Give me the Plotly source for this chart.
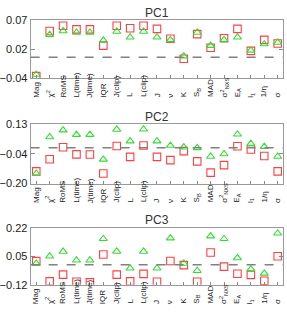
import plotly.graph_objects as go

categories = ["Mag", "χ<sup>2</sup>", "RoMS", "L(time)", "J(time)", "IQR", "J(clip)", "L",
              "L(clip)", "J", "ν", "K", "S<sub>B</sub>", "MAD", "σ<sup>2</sup><sub>NXS</sub>",
              "E<sub>A</sub>", "l<sub>1</sub>", "1/η", "σ"]

panel_titles = ["PC1", "PC2", "PC3"]

pc1_red = [-0.036, 0.050, 0.060, 0.053, 0.053, 0.022, 0.060, 0.055, 0.060, 0.054,
           0.035, -0.003, 0.044, 0.018, 0.036, 0.054, 0.012, 0.033, 0.026]
pc1_green = [-0.033, 0.043, 0.050, 0.047, 0.047, 0.032, 0.049, 0.038, 0.049, 0.038,
             0.033, 0.002, 0.047, 0.022, 0.033, 0.038, 0.013, 0.025, 0.028]

pc2_red = [-0.132, -0.064, 0.003, -0.037, -0.038, -0.144, 0.010, -0.051, 0.012, -0.051,
           -0.069, -0.019, -0.076, -0.139, -0.097, 0.008, -0.010, -0.046, -0.132]
pc2_green = [-0.144, 0.060, 0.098, 0.073, 0.073, -0.065, 0.102, 0.037, 0.103, 0.037,
             0.012, 0.003, -0.001, -0.049, -0.035, 0.075, 0.023, 0.006, -0.049]

pc3_red = [0.022, -0.100, -0.059, -0.102, -0.106, 0.062, -0.059, -0.100, -0.055, -0.102,
           0.023, -0.002, -0.102, 0.074, -0.011, -0.054, -0.061, -0.096, 0.051]
pc3_green = [0.008, 0.051, 0.080, 0.027, 0.027, 0.156, 0.080, -0.021, 0.080, -0.021,
             0.160, 0.008, -0.036, 0.172, 0.156, 0.041, -0.026, -0.052, 0.189]

y_ranges = [(-0.04, 0.07), (-0.20, 0.13), (-0.12, 0.22)]
tick_texts = [["−0.04", "0.02", "0.07"], ["−0.20", "−0.04", "0.13"], ["−0.12", "0.05", "0.22"]]

reds = [pc1_red, pc2_red, pc3_red]
greens = [pc1_green, pc2_green, pc3_green]

W, H = 287, 323
# box pixel extents (top, bottom) per panel
boxes = [(15, 75), (123, 184.4), (230.7, 289.5)]

xs = list(range(len(categories)))
fig = go.Figure()
annotations = []
shapes = []
layout = {}
for i in range(3):
    sfx = "" if i == 0 else str(i + 1)
    xa, ya = "x" + sfx, "y" + sfx
    fig.add_trace(go.Scatter(x=xs, y=reds[i], mode="markers", xaxis=xa, yaxis=ya,
                             marker=dict(symbol="square-open", size=7.5, color="#ff4040",
                                         line=dict(width=1.1)), showlegend=False))
    fig.add_trace(go.Scatter(x=xs, y=greens[i], mode="markers", xaxis=xa, yaxis=ya,
                             marker=dict(symbol="triangle-up-open", size=7, color="#33dd33",
                                         line=dict(width=1.1)), showlegend=False))
    top, bot = boxes[i]
    dom = [1 - bot / H, 1 - top / H]
    lo, hi = y_ranges[i]
    layout["xaxis" + sfx] = dict(domain=[27 / W, 283 / W], range=[-0.42, 18.4],
                                 anchor=ya, tickvals=xs, showticklabels=False,
                                 ticks="inside", ticklen=3, tickcolor="#888",
                                 showline=True, linecolor="#999", mirror=True,
                                 showgrid=False, zeroline=False)
    layout["yaxis" + sfx] = dict(domain=dom, range=[lo, hi], anchor=xa,
                                 tickvals=[lo, (lo + hi) / 2, hi], ticktext=tick_texts[i],
                                 ticks="inside", ticklen=4, tickcolor="#888",
                                 tickfont=dict(size=11, color="#222", family="Arial"),
                                 showline=True, linecolor="#999", mirror="ticks",
                                 showgrid=False, zeroline=False)
    shapes.append(dict(type="line", xref=xa + " domain", yref=ya, x0=0, x1=1, y0=0, y1=0,
                       line=dict(color="#808080", width=1.4, dash="dash")))
    annotations.append(dict(text=panel_titles[i], xref="paper", yref="paper",
                            x=155 / W, y=1 - (top - 8) / H, xanchor="center", yanchor="middle",
                            showarrow=False, font=dict(size=12, color="#333", family="Arial")))
    for k, c in enumerate(categories):
        annotations.append(dict(text=c, xref=xa, yref="paper", x=xs[k],
                                y=1 - (bot + 22) / H, xanchor="center", yanchor="bottom",
                                textangle=-90, showarrow=False,
                                font=dict(size=8, color="#222", family="Arial")))

fig.update_layout(width=W, height=H, margin=dict(l=0, r=0, t=0, b=0),
                  plot_bgcolor="white", paper_bgcolor="white",
                  annotations=annotations, shapes=shapes, **layout)
fig.write_html("out.html", config={"displayModeBar": False},
               post_script="document.body.style.margin='0';document.body.style.overflow='hidden';")
